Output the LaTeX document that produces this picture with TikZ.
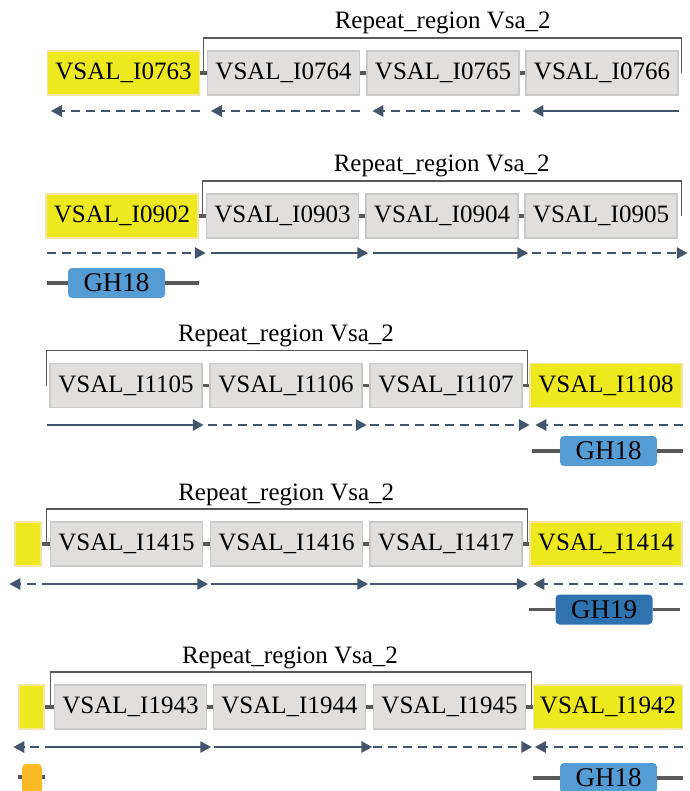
\documentclass[tikz,border=0pt]{standalone}
\usepackage{fontspec}
\setmainfont{Liberation Serif}
\usetikzlibrary{arrows.meta,calc}
\definecolor{ylw}{HTML}{EDE91E}
\definecolor{ylwb}{HTML}{F6E4A4}
\definecolor{gry}{HTML}{E0DFDE}
\definecolor{gryb}{HTML}{C9C9C9}
\definecolor{arc}{HTML}{44546A}
\definecolor{lnk}{HTML}{595959}
\definecolor{ghb}{HTML}{559BD4}
\definecolor{ghd}{HTML}{2E73B0}
\definecolor{org}{HTML}{FBBA25}

\begin{document}
\begin{tikzpicture}[x=1pt,y=-1pt,
    gene/.style={minimum width=152pt,minimum height=44pt,inner sep=0pt,line width=1.5pt,font=\fontsize{25}{26}\selectfont},
    yg/.style={gene,fill=ylw,draw=ylwb},
    gg/.style={gene,fill=gry,draw=gryb},
    lk/.style={draw=lnk,line width=3.5pt},
    brk/.style={draw=lnk,line width=1.4pt},
    ttl/.style={anchor=base,font=\fontsize{25}{26}\selectfont},
    fw/.style={draw=arc,line width=2.8pt,-{Triangle[length=11pt,width=11pt]}},
    dw/.style={fw,dash pattern=on 9pt off 6pt},
    dom/.style={rounded corners=4pt,minimum width=97pt,minimum height=30pt,inner sep=0pt,font=\fontsize{27}{28}\selectfont},
    dl/.style={draw=lnk,line width=3.5pt}]
    \useasboundingbox (0,0) rectangle (689,791);

    % row 1
    \node[yg] (g0763) at (123.5,73) {VSAL\_I0763};
    \node[gg] (g0764) at (283.5,73) {VSAL\_I0764};
    \node[gg] (g0765) at (443,73) {VSAL\_I0765};
    \node[gg] (g0766) at (602,73) {VSAL\_I0766};
    \draw[lk] (g0763.east) -- (g0764.west);
    \draw[lk] (g0764.east) -- (g0765.west);
    \draw[lk] (g0765.east) -- (g0766.west);
    \draw[brk] ($(g0764.west)+(-3,0)$) -- ++(0,-35) -| ($(g0766.east)+(3,0)$);
    \node[ttl] (t1) at ($(g0764.west)!.5!(g0766.east)+(0,-44)$) {Repeat\_region Vsa\_2};
    \coordinate (r1) at (0,111);
    \draw[dw] (g0763.east |- r1) -- ($(g0763.west |- r1)+(4,0)$);
    \draw[dw] (g0764.east |- r1) -- ($(g0764.west |- r1)+(4,0)$);
    \draw[dw] (g0765.east |- r1) -- ($(g0765.west |- r1)+(6,0)$);
    \draw[fw] (g0766.east |- r1) -- ($(g0766.west |- r1)+(7,0)$);

    % row 2
    \node[yg] (g0902) at (122,216) {VSAL\_I0902};
    \node[gg] (g0903) at (282.5,216) {VSAL\_I0903};
    \node[gg] (g0904) at (442,216) {VSAL\_I0904};
    \node[gg] (g0905) at (601,216) {VSAL\_I0905};
    \draw[lk] (g0902.east) -- (g0903.west);
    \draw[lk] (g0903.east) -- (g0904.west);
    \draw[lk] (g0904.east) -- (g0905.west);
    \draw[brk] ($(g0903.west)+(-3,0)$) -- ++(0,-35) -| ($(g0905.east)+(3.5,0)$);
    \node[ttl] (t2) at ($(g0903.west)!.5!(g0905.east)+(0,-44)$) {Repeat\_region Vsa\_2};
    \coordinate (r2) at (0,253);
    \draw[dw] ($(g0902.west |- r2)+(2,0)$) -- (g0903.west |- r2);
    \draw[fw] ($(g0903.west |- r2)+(5,0)$) -- ($(g0904.west |- r2)+(3,0)$);
    \draw[fw] ($(g0904.west |- r2)+(8,0)$) -- ($(g0905.west |- r2)+(4,0)$);
    \draw[dw] ($(g0905.west |- r2)+(8,0)$) -- ($(g0905.east |- r2)+(10,0)$);
    \node[dom,fill=ghb] (d0902) at (116.5,283) {GH18};
    \draw[dl] ($(g0902.west |- d0902)+(2,0)$) -- (d0902.west);
    \draw[dl] (d0902.east) -- (g0902.east |- d0902);

    % row 3
    \node[gg] (g1105) at (126,385.5) {VSAL\_I1105};
    \node[gg] (g1106) at (286,385.5) {VSAL\_I1106};
    \node[gg] (g1107) at (446,385.5) {VSAL\_I1107};
    \node[yg] (g1108) at (606,385.5) {VSAL\_I1108};
    \draw[lk] (g1105.east) -- (g1106.west);
    \draw[lk] (g1106.east) -- (g1107.west);
    \draw[lk] (g1107.east) -- (g1108.west);
    \draw[brk] ($(g1105.west)+(-2.5,0)$) -- ++(0,-35) -| ($(g1107.east)+(4.5,0)$);
    \node[ttl] (t3) at ($(g1105.west)!.5!(g1107.east)+(0,-44)$) {Repeat\_region Vsa\_2};
    \coordinate (r3) at (0,425);
    \draw[fw] ($(g1105.west |- r3)+(-2,0)$) -- ($(g1105.east |- r3)+(1,0)$);
    \draw[dw] ($(g1105.east |- r3)+(5,0)$) -- ($(g1106.east |- r3)+(4,0)$);
    \draw[dw] ($(g1106.east |- r3)+(7,0)$) -- ($(g1107.east |- r3)+(7,0)$);
    \draw[dw] (g1108.east |- r3) -- ($(g1108.west |- r3)+(6,0)$);
    \node[dom,fill=ghb] (d1108) at (608.5,451) {GH18};
    \draw[dl] ($(g1108.west |- d1108)+(3,0)$) -- (d1108.west);
    \draw[dl] (d1108.east) -- (g1108.east |- d1108);

    % row 4
    \node[yg,minimum width=26pt] (s1414) at (28,544) {};
    \node[gg] (g1415) at (126.5,544) {VSAL\_I1415};
    \node[gg] (g1416) at (286.5,544) {VSAL\_I1416};
    \node[gg] (g1417) at (446,544) {VSAL\_I1417};
    \node[yg] (g1414) at (606,544) {VSAL\_I1414};
    \draw[lk] (s1414.east) -- (g1415.west);
    \draw[lk] (g1415.east) -- (g1416.west);
    \draw[lk] (g1416.east) -- (g1417.west);
    \draw[lk] (g1417.east) -- (g1414.west);
    \draw[brk] ($(g1415.west)+(-3,0)$) -- ++(0,-35) -| ($(g1417.east)+(4.5,0)$);
    \node[ttl] (t4) at ($(g1415.west)!.5!(g1417.east)+(0,-44)$) {Repeat\_region Vsa\_2};
    \coordinate (r4) at (0,584);
    \draw[dw] ($(s1414.east |- r4)+(-6,0)$) -- ($(s1414.west |- r4)+(-5,0)$);
    \draw[fw] (s1414.east |- r4) -- ($(g1415.east |- r4)+(5,0)$);
    \draw[fw] ($(g1416.west |- r4)+(1,0)$) -- ($(g1416.east |- r4)+(5,0)$);
    \draw[fw] ($(g1417.west |- r4)+(1,0)$) -- ($(g1417.east |- r4)+(5,0)$);
    \draw[dw] (g1414.east |- r4) -- ($(g1414.west |- r4)+(4,0)$);
    \node[dom,fill=ghd] (d1414) at (604,609.5) {GH19};
    \draw[dl] (g1414.west |- d1414) -- (d1414.west);
    \draw[dl] (d1414.east) -- ($(g1414.east |- d1414)+(-3,0)$);

    % row 5
    \node[yg,minimum width=25pt] (s1942) at (31.5,707) {};
    \node[gg] (g1943) at (130.5,707) {VSAL\_I1943};
    \node[gg] (g1944) at (289.5,707) {VSAL\_I1944};
    \node[gg] (g1945) at (449.5,707) {VSAL\_I1945};
    \node[yg,minimum width=149pt] (g1942) at (608,707) {VSAL\_I1942};
    \draw[lk] (s1942.east) -- (g1943.west);
    \draw[lk] (g1943.east) -- (g1944.west);
    \draw[lk] (g1944.east) -- (g1945.west);
    \draw[lk] (g1945.east) -- (g1942.west);
    \draw[brk] ($(g1943.west)+(-3,0)$) -- ++(0,-35) -| ($(g1945.east)+(5,0)$);
    \node[ttl] (t5) at ($(g1943.west)!.5!(g1945.east)+(0,-44)$) {Repeat\_region Vsa\_2};
    \coordinate (r5) at (0,747);
    \draw[dw] ($(s1942.east |- r5)+(-6,0)$) -- ($(s1942.west |- r5)+(-5,0)$);
    \draw[fw] (s1942.east |- r5) -- ($(g1943.east |- r5)+(4,0)$);
    \draw[fw] ($(g1944.west |- r5)+(1,0)$) -- ($(g1944.east |- r5)+(6,0)$);
    \draw[dw] (g1945.west |- r5) -- ($(g1945.east |- r5)+(6,0)$);
    \draw[dw] (g1942.east |- r5) -- ($(g1942.west |- r5)+(2,0)$);
    \coordinate (o1) at (0,777);
    \draw[dl] (s1942.west |- o1) -- (s1942.east |- o1);
    \node[dom,fill=org,minimum width=20pt] (o1942) at (32,779) {};
    \node[dom,fill=ghb] (d1942) at (608.5,778) {GH18};
    \draw[dl] (g1942.west |- d1942) -- (d1942.west);
    \draw[dl] (d1942.east) -- (g1942.east |- d1942);
\end{tikzpicture}
\end{document}
